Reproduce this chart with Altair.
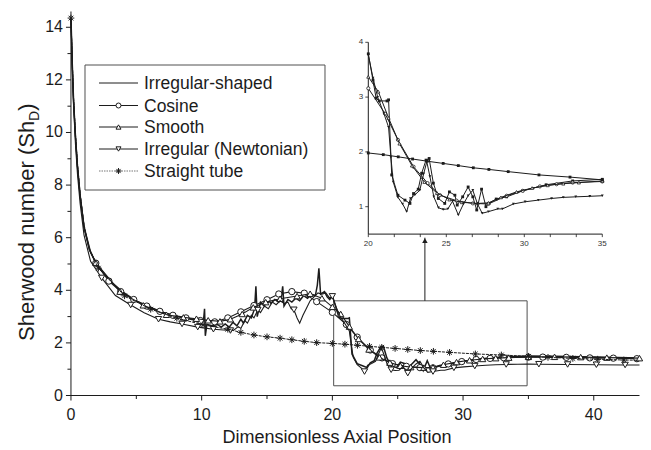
import altair as alt
import pandas as pd

# ---------------- data ----------------
irr_x = [0, 0.1, 0.2, 0.35, 0.5, 0.7, 1.0, 1.5, 2.0, 3.0, 4.0, 5.0, 6.0, 7.0, 8.0, 9.0, 9.6, 10.0, 10.15, 10.22,
         10.28, 10.4, 10.8, 11.2, 11.5, 11.8, 12.1, 12.4, 12.7, 13.0, 13.2, 13.5, 13.8, 14.05, 14.15, 14.25, 14.5, 14.8,
         15.0, 15.3, 15.6, 15.9, 16.1, 16.2, 16.3, 16.6, 16.9, 17.2, 17.5, 17.8, 18.1, 18.4, 18.7, 18.85, 18.97, 19.1,
         19.4, 19.6, 19.8, 20.0, 20.3, 20.5, 20.7, 21.2, 21.3, 21.5, 21.9, 22.35, 22.67, 22.9, 23.2, 23.42, 23.7, 23.9,
         24.17, 24.49, 24.9, 25.2, 25.55, 25.7, 26.05, 26.4, 26.7, 26.95, 27.26, 27.54, 27.73, 28.2, 28.87, 29.9, 31.4,
         33.1, 35.0, 37.0, 39.0, 41.0, 43.5]
irr_y = [14.35, 12.6, 11.2, 9.8, 8.7, 7.6, 6.4, 5.45, 4.95, 4.35, 3.92, 3.6, 3.37, 3.17, 3.02, 2.92, 2.85, 2.8, 2.9, 3.3,
         2.27, 2.7, 2.65, 2.7, 2.6, 2.72, 2.6, 2.78, 2.65, 2.9, 2.75, 3.05, 2.95, 3.3, 4.15, 3.0, 3.55, 3.4,
         3.7, 3.5, 3.65, 3.55, 3.75, 4.15, 3.4, 3.65, 3.55, 3.7, 3.6, 3.8, 3.7, 3.85, 3.8, 4.2, 4.84, 3.85,
         3.95, 3.75, 3.65, 3.79, 3.31, 2.98, 2.93, 2.93, 2.95, 1.58, 1.21, 1.12, 1.06, 1.24, 1.32, 1.61, 1.85, 1.88,
         1.43, 1.15, 1.06, 1.27, 1.21, 1.03, 1.18, 1.36, 1.18, 0.94, 1.32, 1.0, 1.06, 1.14, 1.18, 1.29, 1.4,
         1.47, 1.5, 1.49, 1.47, 1.45, 1.43]
irr_marks = []

cos_x = [0, 0.1, 0.2, 0.35, 0.5, 0.7, 1.0, 1.4, 1.9, 2.9, 3.8, 4.8, 5.8, 6.8, 7.8, 8.8, 9.9, 11.0, 12.0, 13.0,
         14.0, 15.0, 15.9, 16.9, 17.85, 18.8, 20.0, 21.07, 21.9, 22.9, 23.8, 24.6, 25.66, 26.7, 27.7, 28.87, 29.9,
         31.0, 32.07, 33.1, 35.0, 36.1, 37.9, 39.7, 41.5, 43.3]
cos_y = [14.35, 12.6, 11.2, 9.8, 8.7, 7.6, 6.4, 5.55, 5.03, 4.35, 3.95, 3.65, 3.4, 3.2, 3.05, 2.95, 2.85, 2.8, 2.95, 3.18,
         3.42, 3.64, 3.86, 3.95, 3.89, 3.57, 3.16, 2.7, 2.22, 1.73, 1.43, 1.21, 1.11, 1.06, 1.05, 1.2, 1.29,
         1.37, 1.41, 1.44, 1.46, 1.46, 1.45, 1.43, 1.42, 1.4]
cos_marks = cos_x[8:]

smo_x = [0, 0.1, 0.2, 0.35, 0.5, 0.7, 1.0, 1.4, 1.9, 3.75, 5.53, 7.3, 8.6, 9.6, 10.5, 11.4, 12.2, 13.1, 13.95, 14.9,
         16.0, 17.3, 18.3, 19.2, 20.0, 20.64, 21.3, 22.0, 22.8, 23.6, 24.4, 25.2, 26.0, 27.0, 27.7, 28.5, 29.5, 30.5,
         31.5, 32.5, 33.5, 35.0, 37.0, 39.0, 41.0, 43.5]
smo_y = [14.35, 12.6, 11.2, 9.8, 8.7, 7.6, 6.4, 5.55, 5.05, 3.95, 3.43, 3.07, 2.97, 2.92, 2.86, 2.82, 2.9, 3.1, 3.35, 3.55,
         3.68, 3.78, 3.87, 3.7, 3.37, 3.1, 2.62, 2.15, 1.75, 1.45, 1.25, 1.13, 1.08, 1.06, 1.07, 1.17, 1.27, 1.34,
         1.39, 1.42, 1.44, 1.47, 1.47, 1.46, 1.44, 1.42]
smo_marks = smo_x[8:]

new_x = [0, 0.1, 0.2, 0.35, 0.5, 0.7, 1.0, 1.5, 2.35, 3.4, 4.57, 5.6, 6.7, 7.6, 8.5, 9.7, 10.9, 12.2, 12.5, 12.8,
         13.0, 13.3, 13.5, 13.8, 14.0, 14.3, 14.5, 14.8, 15.1, 15.4, 15.7, 16.0, 16.3, 16.6, 16.85, 17.06, 17.3, 17.5,
         17.75, 18.0, 18.3, 18.6, 18.9, 19.2, 19.5, 19.8, 20.0, 20.3, 20.6, 21.0, 21.3, 21.45, 21.6, 21.9, 22.2, 22.46,
         22.7, 23.0, 23.3, 23.55, 23.75, 23.95, 24.2, 24.5, 24.8, 25.1, 25.4, 25.77, 26.1, 26.4, 26.7, 27.0, 27.3,
         27.7, 28.3, 28.6, 29.3, 30.05, 30.9, 31.75, 32.5, 33.3, 34.2, 35.0, 35.8, 38.0, 40.2, 42.4, 43.5]
new_y = [14.35, 12.4, 11.0, 9.5, 8.4, 7.3, 6.1, 5.1, 4.47, 3.8, 3.44, 3.15, 2.9, 2.8, 2.72, 2.6, 2.52, 2.47, 2.5, 2.62,
         2.55, 2.85, 2.75, 3.05, 2.95, 3.25, 3.15, 3.4, 3.3, 3.55, 3.45, 3.6, 3.5, 3.55, 3.3, 3.26, 2.95, 2.75,
         3.05, 3.3, 3.6, 3.75, 3.9, 3.85, 3.9, 3.7, 3.77, 3.35, 3.0, 2.7, 2.45, 1.9, 1.45, 1.17, 1.05, 0.91,
         1.15, 1.22, 1.3, 1.6, 1.82, 1.55, 1.18, 0.98, 0.95, 0.96, 1.1, 0.85, 1.05, 1.2, 1.3, 1.05, 0.88,
         0.91, 0.96, 0.96, 1.05, 1.09, 1.12, 1.15, 1.17, 1.18, 1.19, 1.2, 1.19, 1.18, 1.17, 1.16, 1.16]
new_marks = [2.35, 4.57, 6.7, 8.5, 9.7, 10.9, 12.2, 14.3, 17.06, 20.0, 22.46, 24.5, 25.77, 27.7, 29.3, 30.9,
             33.3, 35.8, 38.0, 40.2, 42.4]

str_x = [0, 0.1, 0.2, 0.35, 0.5, 0.7, 1.0, 1.4, 2.1, 4.1, 6.1, 8.1, 10.1, 12.0, 13.0, 14.0, 15.0, 16.0, 16.9, 17.85,
         18.8, 20.0, 20.96, 21.92, 22.84, 23.78, 24.8, 25.77, 26.73, 27.73, 28.97, 30.94, 32.93, 35.0, 36.5, 38.4,
         40.3, 42.3, 43.4]
str_y = [14.35, 12.7, 11.3, 9.9, 8.8, 7.7, 6.5, 5.6, 4.84, 3.79, 3.28, 2.94, 2.69, 2.52, 2.4, 2.3, 2.23, 2.18, 2.12, 2.06,
         2.01, 1.98, 1.95, 1.91, 1.87, 1.83, 1.79, 1.75, 1.71, 1.68, 1.64, 1.58, 1.54, 1.49, 1.45, 1.41,
         1.38, 1.35, 1.34]
str_marks = [0] + str_x[8:-1]

legend_labels = ["Irregular-shaped", "Cosine", "Smooth", "Irregular (Newtonian)", "Straight tube"]

inset_box_x = [20.1, 34.9]
inset_box_y = [0.37, 3.6]
arrow_x = [27.08]
arrow_y = [3.6, 6.0]

x_ticks = [0, 5, 10, 15, 20, 25, 30, 35, 40]
x_labels = [0, 10, 20, 30, 40]
y_ticks = list(range(0, 15))
y_labels = [0, 2, 4, 6, 8, 10, 12, 14]
ins_x_ticks = [20, 21.667, 23.333, 25, 26.667, 28.333, 30, 31.667, 33.333, 35]
ins_x_labels = [20, 25, 30, 35]
ins_y_ticks = [1, 2, 3, 4]

# ---------------- styling ----------------
FONT = "Liberation Sans"
INK = "#1c1c1c"
X_DOM = [-0.25, 43.5]
Y_DOM = [0, 14.6]
W = round((X_DOM[1] - X_DOM[0]) * 13.07, 1)
H = 384
X0 = (0 - X_DOM[0]) / (X_DOM[1] - X_DOM[0]) * W   # pixel of x = 0 (y axis line)
INS_XR = [300.6, 534.6]
INS_YR = [222.6, 30.8]
ASTER = "M0,-1L0,1M-1,0L1,0M-0.7,-0.7L0.7,0.7M-0.7,0.7L0.7,-0.7"
ONE = pd.DataFrame({"a": [0]})


def frame(xs, ys, marks):
    ms = set(marks)
    return pd.DataFrame({"x": xs, "y": ys, "m": [1 if v in ms else 0 for v in xs]})


series = [
    ("irr", frame(irr_x, irr_y, irr_marks), "none", 1.5, None),
    ("cos", frame(cos_x, cos_y, cos_marks), "circle", 1.1, None),
    ("smo", frame(smo_x, smo_y, smo_marks), "triangle-up", 1.1, None),
    ("new", frame(new_x, new_y, new_marks), "triangle-down", 1.1, None),
    ("str", frame(str_x, str_y, str_marks), ASTER, 1.0, [3, 1]),
]

mx = alt.Scale(domain=X_DOM, nice=False, zero=False)
my = alt.Scale(domain=Y_DOM, nice=False, zero=False)
ix = alt.Scale(domain=[20, 35], range=INS_XR, nice=False, zero=False)
iy = alt.Scale(domain=[0.5, 4], range=INS_YR, nice=False, zero=False)


def X(f, s):
    return alt.X(f, type="quantitative", scale=s, axis=None)


def Y(f, s):
    return alt.Y(f, type="quantitative", scale=s, axis=None)


main_layers = []

# ---- main axes (drawn with the main scales) ----
xt = pd.DataFrame({"v": x_ticks, "major": [1 if v in x_labels else 0 for v in x_ticks]})
yt = pd.DataFrame({"v": y_ticks, "major": [1 if v in y_labels else 0 for v in y_ticks]})
main_layers += [
    alt.Chart(ONE).mark_rule(color=INK, strokeWidth=1).encode(
        x=alt.value(0), x2=alt.value(W), y=alt.value(H)),
    alt.Chart(ONE).mark_rule(color=INK, strokeWidth=1).encode(
        x=alt.value(X0), y=alt.value(0), y2=alt.value(H)),
    alt.Chart(xt).transform_filter("datum.major == 1").mark_rule(color=INK, strokeWidth=1).encode(
        x=X("v", mx), y=alt.value(H), y2=alt.value(H + 5)),
    alt.Chart(xt).transform_filter("datum.major == 0").mark_rule(color=INK, strokeWidth=1).encode(
        x=X("v", mx), y=alt.value(H), y2=alt.value(H + 3.5)),
    alt.Chart(yt).transform_filter("datum.major == 1").mark_rule(color=INK, strokeWidth=1).encode(
        y=Y("v", my), x=alt.value(X0 - 5), x2=alt.value(X0)),
    alt.Chart(yt).transform_filter("datum.major == 0").mark_rule(color=INK, strokeWidth=1).encode(
        y=Y("v", my), x=alt.value(X0 - 3.5), x2=alt.value(X0)),
    alt.Chart(xt).transform_filter("datum.major == 1").mark_text(
        font=FONT, fontSize=16, color=INK, baseline="middle", align="center").encode(
        x=X("v", mx), y=alt.value(H + 19), text=alt.Text("v:Q", format="d")),
    alt.Chart(yt).transform_filter("datum.major == 1").mark_text(
        font=FONT, fontSize=16, color=INK, baseline="middle", align="right").encode(
        y=Y("v", my), x=alt.value(X0 - 8), text=alt.Text("v:Q", format="d")),
    alt.Chart(ONE).mark_text(font=FONT, fontSize=18, color=INK, baseline="alphabetic", align="center").encode(
        x=alt.value(269.3), y=alt.value(H + 47), text=alt.value("Dimensionless Axial Position")),
]

# ---- inset rectangle + arrow in main coordinates ----
box_df = pd.DataFrame({"x": [inset_box_x[0]], "x2": [inset_box_x[1]], "y": [inset_box_y[0]], "y2": [inset_box_y[1]]})
main_layers.append(
    alt.Chart(box_df).mark_rect(fillOpacity=0, stroke="#505050", strokeWidth=1).encode(
        x=X("x", mx), x2="x2:Q", y=Y("y", my), y2="y2:Q")
)
arr_df = pd.DataFrame({"x": arrow_x, "y": [arrow_y[0]], "y2": [arrow_y[1]]})
main_layers.append(
    alt.Chart(arr_df).mark_rule(color=INK, strokeWidth=1).encode(x=X("x", mx), y=Y("y", my), y2="y2:Q")
)
main_layers.append(
    alt.Chart(arr_df).mark_point(shape="triangle-up", filled=True, color=INK, size=30, opacity=1,
                                 yOffset=3).encode(x=X("x", mx), y=Y("y2", my))
)

# ---- series ----
for name, df, shape, sw, dash in series:
    lk = dict(color=INK, strokeWidth=sw)
    if dash:
        lk["strokeDash"] = dash
    main_layers.append(alt.Chart(df).mark_line(**lk).encode(x=X("x", mx), y=Y("y", my)))
    if shape != "none":
        if shape == ASTER:
            pk = dict(shape=shape, filled=False, stroke=INK, strokeWidth=1, size=45, opacity=1)
        else:
            pk = dict(shape=shape, filled=True, fill="white", stroke=INK, strokeWidth=1, size=40, opacity=1)
        main_layers.append(
            alt.Chart(df).transform_filter("datum.m == 1").mark_point(**pk).encode(x=X("x", mx), y=Y("y", my))
        )

# ---- legend ----
main_layers.append(
    alt.Chart(ONE).mark_rect(fill="white", stroke="#505050", strokeWidth=1).encode(
        x=alt.value(17.3), x2=alt.value(257.3), y=alt.value(53.5), y2=alt.value(178.5))
)
leg_shapes = ["none", "circle", "triangle-up", "triangle-down", ASTER]
row_y = [71.5, 94, 115.5, 137.5, 159.5]
for i, lab in enumerate(legend_labels):
    lk = dict(color=INK if i < 4 else "#777777", strokeWidth=1)
    if i == 4:
        lk["strokeDash"] = [1.5, 1]
    main_layers.append(
        alt.Chart(ONE).mark_rule(**lk).encode(x=alt.value(31.3), x2=alt.value(70.3), y=alt.value(row_y[i]))
    )
    if leg_shapes[i] != "none":
        if leg_shapes[i] == ASTER:
            pk = dict(shape=ASTER, filled=False, stroke=INK, strokeWidth=1, size=35, opacity=1)
        else:
            pk = dict(shape=leg_shapes[i], filled=True, fill="white", stroke=INK, strokeWidth=1, size=25, opacity=1)
        main_layers.append(
            alt.Chart(ONE).mark_point(**pk).encode(x=alt.value(50.8), y=alt.value(row_y[i]))
        )
    main_layers.append(
        alt.Chart(ONE).mark_text(align="left", baseline="middle", font=FONT, fontSize=17.5, color=INK).encode(
            x=alt.value(76.3), y=alt.value(row_y[i] + 1), text=alt.value(lab))
    )

# ---- y-axis title with subscript ----
ytitle = [("Sherwood number (Sh", 22, -33.7, 329.5), ("D", 14, -29.0, 109.4), (")", 22, -33.7, 99.3)]
for txt, fs, xx, yy in ytitle:
    main_layers.append(
        alt.Chart(ONE).mark_text(align="left", baseline="alphabetic", angle=270, font=FONT, fontSize=fs,
                                 color=INK).encode(x=alt.value(xx), y=alt.value(yy), text=alt.value(txt))
    )

main = alt.layer(*main_layers)

# ---------------- inset (own scales) ----------------
ixt = pd.DataFrame({"v": ins_x_ticks})
ixl = pd.DataFrame({"v": ins_x_labels})
iyt = pd.DataFrame({"v": ins_y_ticks})
inset_layers = [
    alt.Chart(ONE).mark_rule(color=INK, strokeWidth=1).encode(
        x=alt.value(INS_XR[0]), x2=alt.value(INS_XR[1]), y=alt.value(INS_YR[0])),
    alt.Chart(ONE).mark_rule(color=INK, strokeWidth=1).encode(
        x=alt.value(INS_XR[0]), y=alt.value(INS_YR[0]), y2=alt.value(INS_YR[1])),
    alt.Chart(ixt).mark_rule(color=INK, strokeWidth=0.8).encode(
        x=X("v", ix), y=alt.value(INS_YR[0]), y2=alt.value(INS_YR[0] + 3)),
    alt.Chart(iyt).mark_rule(color=INK, strokeWidth=0.8).encode(
        y=Y("v", iy), x=alt.value(INS_XR[0] - 3), x2=alt.value(INS_XR[0])),
    alt.Chart(ixl).mark_text(font=FONT, fontSize=8, color="#333333", baseline="middle", align="center").encode(
        x=X("v", ix), y=alt.value(INS_YR[0] + 10), text=alt.Text("v:Q", format="d")),
    alt.Chart(iyt).mark_text(font=FONT, fontSize=8, color="#333333", baseline="middle", align="right").encode(
        y=Y("v", iy), x=alt.value(INS_XR[0] - 5), text=alt.Text("v:Q", format="d")),
]
rng = "datum.x >= 20 && datum.x <= 35"
ins_shape = {"irr": ("square", True), "cos": ("circle", False), "smo": ("triangle-up", False),
             "new": ("triangle-down", True), "str": ("square", True)}
for name, df, shape, sw, dash in series:
    inset_layers.append(
        alt.Chart(df).transform_filter(rng).mark_line(color=INK, strokeWidth=1).encode(
            x=X("x", ix), y=Y("y", iy))
    )
    shp, fil = ins_shape[name]
    if fil:
        pk = dict(shape=shp, filled=True, color=INK, size=8, opacity=1)
    else:
        pk = dict(shape=shp, filled=True, fill="white", stroke=INK, strokeWidth=0.8, size=10, opacity=1)
    inset_layers.append(
        alt.Chart(df).transform_filter(rng).mark_point(**pk).encode(x=X("x", ix), y=Y("y", iy))
    )
inset = alt.layer(*inset_layers)

chart = alt.layer(main, inset).resolve_scale(x="independent", y="independent").properties(
    width=W, height=H,
    padding={"left": 59.7, "top": 3.5, "right": 3, "bottom": 52},
    autosize=alt.AutoSizeParams(type="none"),
    background="white",
).configure_view(strokeWidth=0)

chart.save("out.html", embed_options={"renderer": "svg", "actions": False})
